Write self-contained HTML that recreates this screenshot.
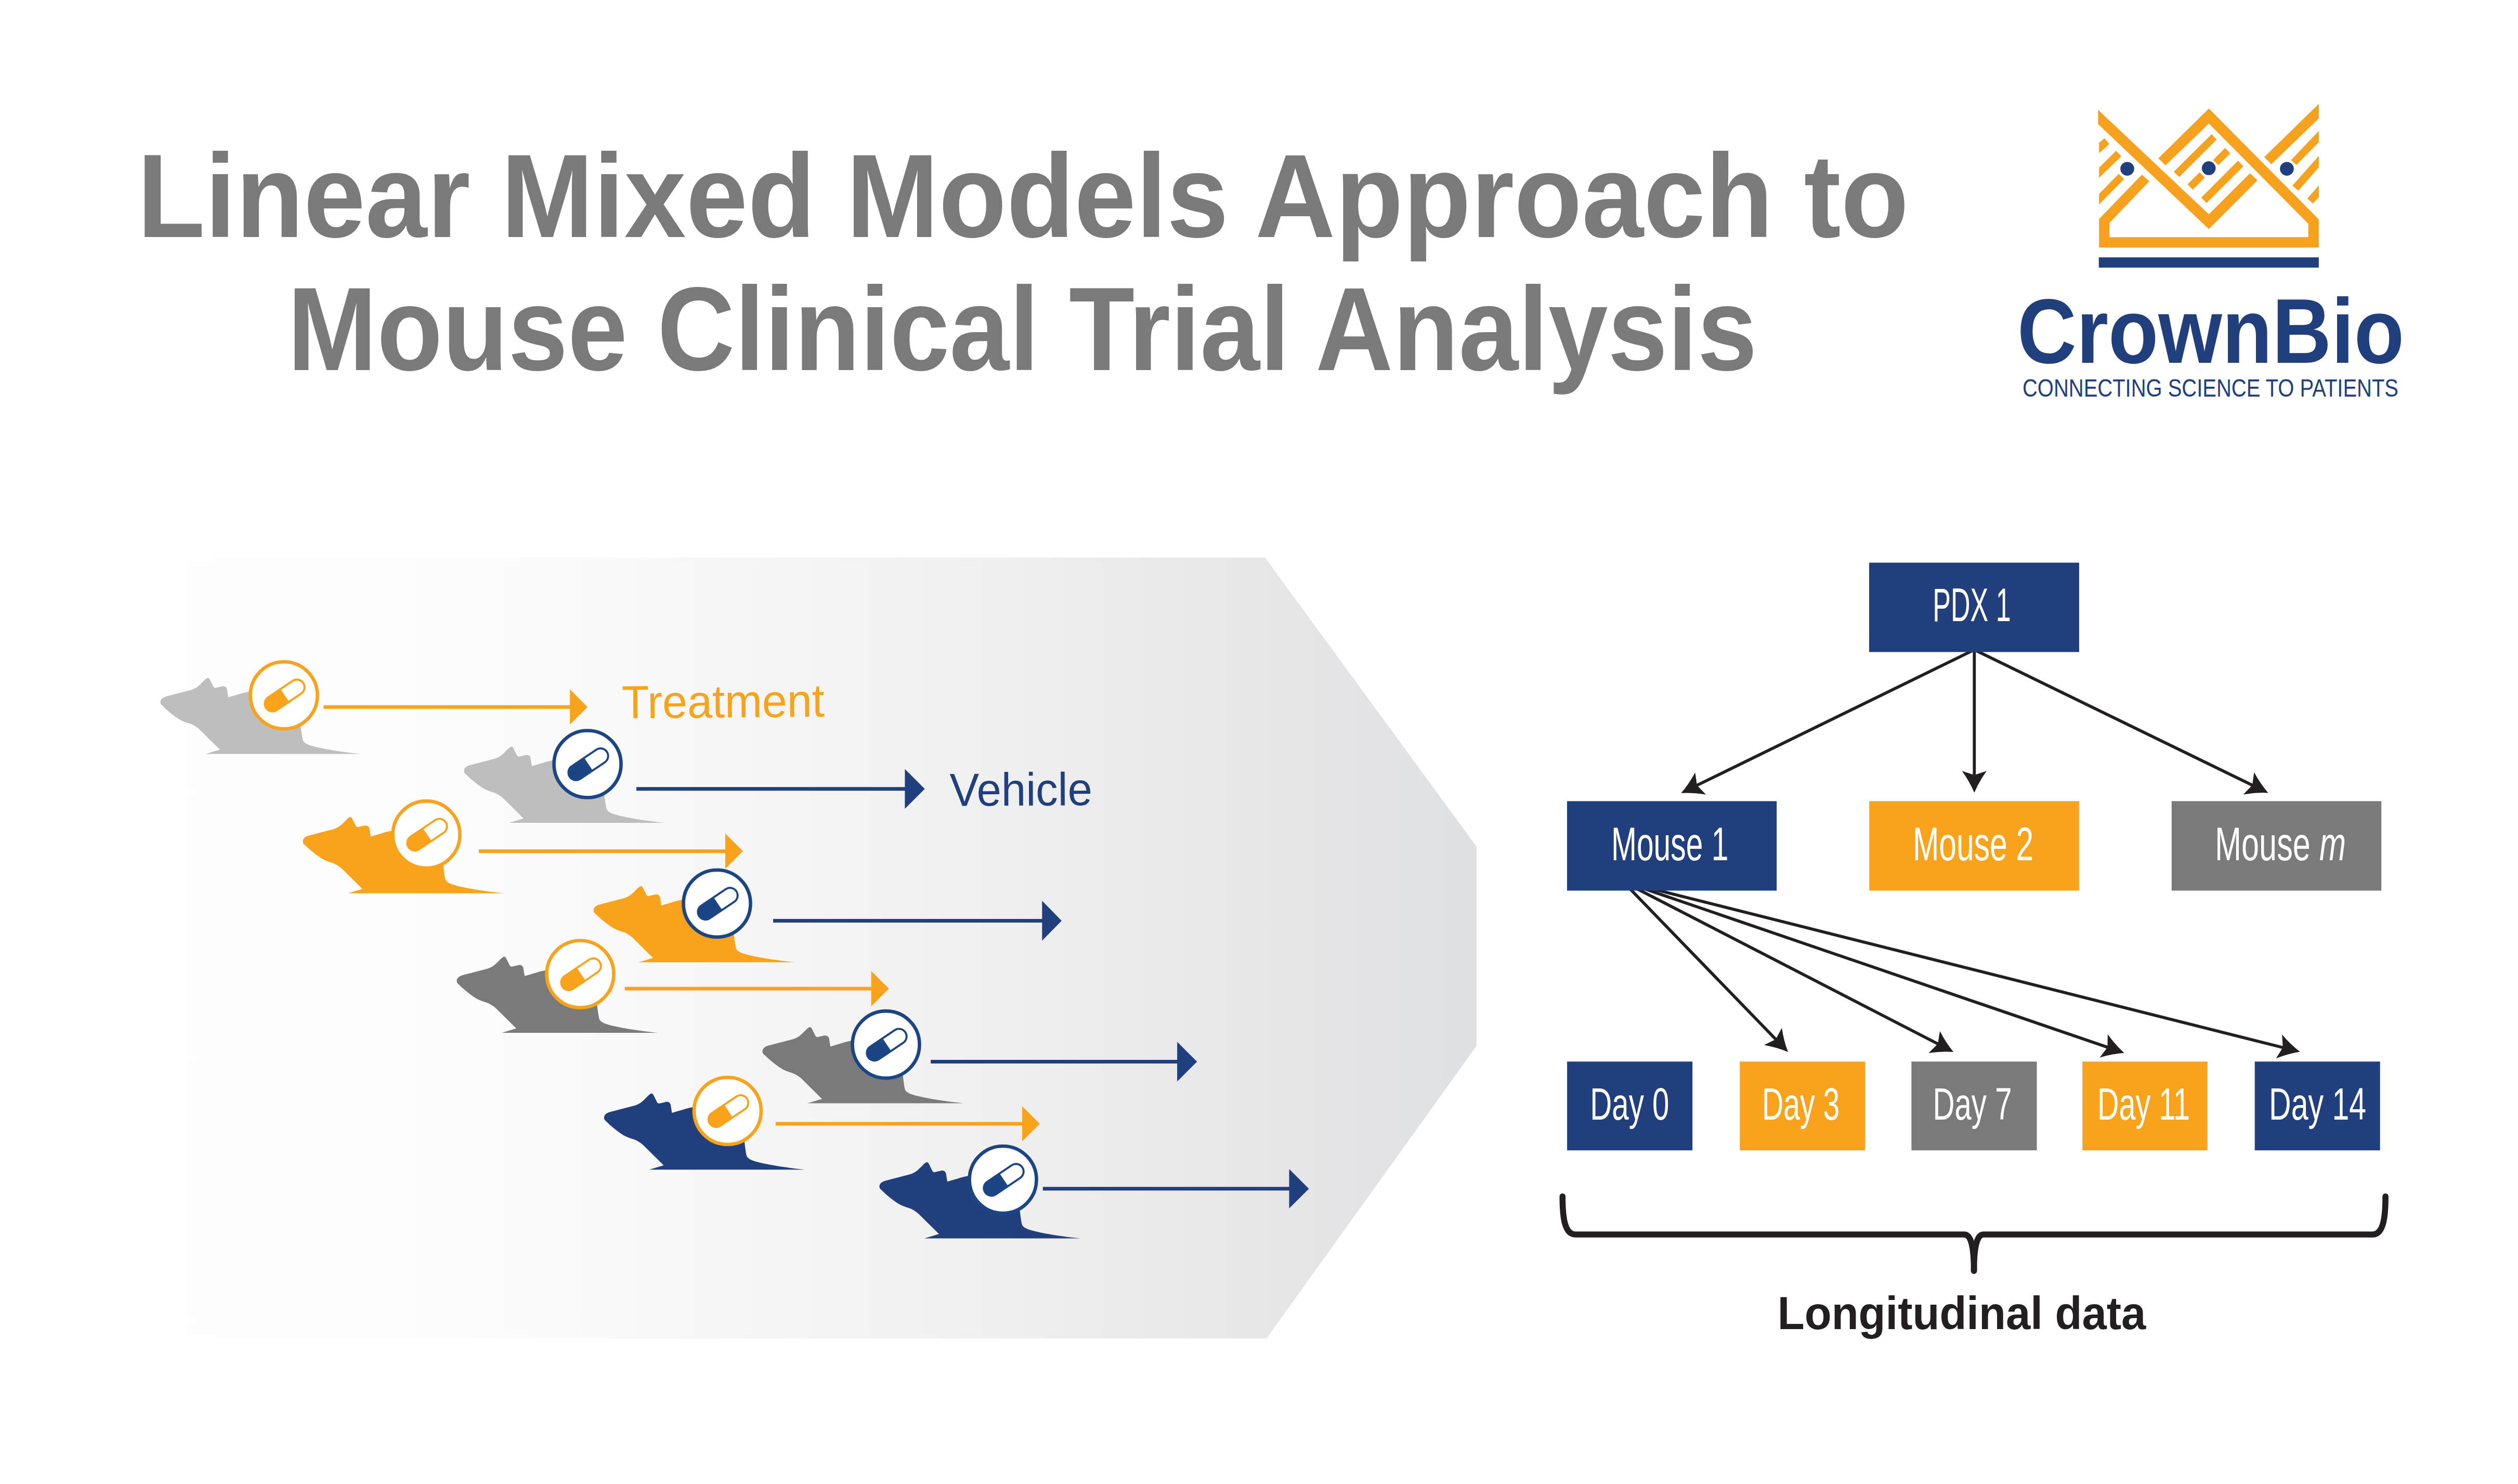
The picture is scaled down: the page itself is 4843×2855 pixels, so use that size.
<!DOCTYPE html><html><head><meta charset="utf-8"><title>Linear Mixed Models Approach to Mouse Clinical Trial Analysis</title>
<style>html,body{margin:0;padding:0;background:#fff;}body{width:4843px;height:2855px;overflow:hidden;}svg{display:block;}text{font-family:"Liberation Sans",Arial,sans-serif;}</style></head><body>
<svg width="4843" height="2855" viewBox="0 0 4843 2855">
<defs><linearGradient id="bg" gradientUnits="userSpaceOnUse" x1="327" y1="0" x2="2840" y2="0"><stop offset="0" stop-color="#fefefe"/><stop offset="0.168" stop-color="#fdfdfd"/><stop offset="0.308" stop-color="#fafafa"/><stop offset="0.467" stop-color="#f5f5f5"/><stop offset="0.626" stop-color="#f0f0f0"/><stop offset="0.736" stop-color="#ebebeb"/><stop offset="0.831" stop-color="#e7e7e8"/><stop offset="1" stop-color="#dfe0e2"/></linearGradient></defs>
<rect width="4843" height="2855" fill="#fff"/>
<text x="264" y="455.5" font-size="229" font-weight="bold" fill="#7a7a7a" textLength="3407" lengthAdjust="spacingAndGlyphs">Linear Mixed Models Approach to</text>
<text x="553" y="712" font-size="229" font-weight="bold" fill="#7a7a7a" textLength="2826.5" lengthAdjust="spacingAndGlyphs">Mouse Clinical Trial Analysis</text>
<g transform="translate(4020,190) scale(0.22909)"><polygon points="435,637 497,693 162,1043 162,1162 1832,1162 1832,1050 997,208 633,560 573,500 997,82 1920,1013 1920,1250 75,1250 75,1010" fill="#f7a21e"/><polygon points="67,93 997,970 1343,625 1405,685 997,1095 67,213" fill="#f7a21e"/><polygon points="1920,43 1920,165 1522,550 1462,490" fill="#f7a21e"/><polygon points="75,370 120,332 162,380 75,458" fill="#f7a21e"/><polygon points="75,580 218,437 262,483 75,665" fill="#f7a21e"/><polygon points="75,800 240,630 285,675 75,888" fill="#f7a21e"/><polygon points="703,612 1020,298 1063,343 748,657" fill="#f7a21e"/><polygon points="1033,515 1133,412 1177,458 1077,558" fill="#f7a21e"/><polygon points="818,718 920,617 963,662 862,764" fill="#f7a21e"/><polygon points="933,830 1242,520 1287,567 978,875" fill="#f7a21e"/><polygon points="1687,515 1920,270 1920,365 1732,557" fill="#f7a21e"/><polygon points="1698,730 1920,480 1920,577 1748,772" fill="#f7a21e"/><polygon points="1824,838 1920,728 1920,828 1870,880" fill="#f7a21e"/><circle cx="312" cy="588" r="58" fill="#223f7d"/><circle cx="996" cy="583" r="58" fill="#223f7d"/><circle cx="1652" cy="588" r="58" fill="#223f7d"/><rect x="73" y="1332" width="1847" height="86" fill="#223f7d"/></g>
<text x="3880" y="697.7" font-size="176" font-weight="bold" fill="#223f7d" textLength="744" lengthAdjust="spacingAndGlyphs">CrownBio</text>
<text x="3890" y="762.9" font-size="48.5" fill="#223f7d" textLength="723" lengthAdjust="spacingAndGlyphs">CONNECTING SCIENCE TO PATIENTS</text>
<polygon points="327,1072.5 2433,1072.5 2840,1629 2840,2012 2436,2575 327,2575" fill="url(#bg)"/>
<path transform="translate(546,1337.7)" d="M-237.3,14.5 C-238.5,8 -233,3.5 -224,1.5 L-178,-10.5 C-170,-13 -165,-17 -158,-24 C-153,-29 -149,-33.5 -146.5,-33.5 C-144,-33.5 -143,-31.5 -142,-29.5 L-135,-15.6 L-132,-14.3 L-119,-17.3 C-114,-18 -110.5,-16 -109.5,-12 L-107,3.8 L-85.6,-2.5 C-78,-5 -70,-7 -62,-8 L0,-40 L45,10 L32.6,60.2 C33.5,68 35,80 36.5,86 C38,90.5 42,93 50,96 C70,102.5 110,109 149,112.9 L-151,112.9 L-123,104.6 L-161.5,66.5 C-167,61 -175,56 -184.3,53.4 C-192,51 -199,48 -206,43 C-215,36.5 -225,28.5 -232,21.5 C-235,18.5 -237.5,17 -237.3,14.5 Z" fill="#bebebe"/><circle cx="546" cy="1337.7" r="64.5" fill="#fff" stroke="#f9a31c" stroke-width="6.6"/><g transform="translate(547.5,1338) rotate(-34)"><rect x="-45" y="-16.6" width="90" height="33.2" rx="16.6" fill="#f9a31c"/><path d="M0.3,-12.7 H28.4 A12.7,12.7 0 0 1 28.4,12.7 H0.3 Z" fill="#fff"/></g><rect x="622.2" y="1356.7" width="475" height="7" fill="#f9a31c"/><polygon points="1096.2,1326.3 1130,1360.2 1096.2,1394.1" fill="#f9a31c"/>
<path transform="translate(1130,1470)" d="M-237.3,14.5 C-238.5,8 -233,3.5 -224,1.5 L-178,-10.5 C-170,-13 -165,-17 -158,-24 C-153,-29 -149,-33.5 -146.5,-33.5 C-144,-33.5 -143,-31.5 -142,-29.5 L-135,-15.6 L-132,-14.3 L-119,-17.3 C-114,-18 -110.5,-16 -109.5,-12 L-107,3.8 L-85.6,-2.5 C-78,-5 -70,-7 -62,-8 L0,-40 L45,10 L32.6,60.2 C33.5,68 35,80 36.5,86 C38,90.5 42,93 50,96 C70,102.5 110,109 149,112.9 L-151,112.9 L-123,104.6 L-161.5,66.5 C-167,61 -175,56 -184.3,53.4 C-192,51 -199,48 -206,43 C-215,36.5 -225,28.5 -232,21.5 C-235,18.5 -237.5,17 -237.3,14.5 Z" fill="#bebebe"/><circle cx="1130" cy="1470" r="64.5" fill="#fff" stroke="#1c4585" stroke-width="6.6"/><g transform="translate(1131.5,1470.3) rotate(-34)"><rect x="-45" y="-16.6" width="90" height="33.2" rx="16.6" fill="#1c4585"/><path d="M0.3,-12.7 H28.4 A12.7,12.7 0 0 1 28.4,12.7 H0.3 Z" fill="#fff"/></g><rect x="1224" y="1514.2" width="517.4" height="7" fill="#223f7d"/><polygon points="1740.4,1479.5 1778.7,1517.7 1740.4,1555.9" fill="#223f7d"/>
<path transform="translate(820,1605.6)" d="M-237.3,14.5 C-238.5,8 -233,3.5 -224,1.5 L-178,-10.5 C-170,-13 -165,-17 -158,-24 C-153,-29 -149,-33.5 -146.5,-33.5 C-144,-33.5 -143,-31.5 -142,-29.5 L-135,-15.6 L-132,-14.3 L-119,-17.3 C-114,-18 -110.5,-16 -109.5,-12 L-107,3.8 L-85.6,-2.5 C-78,-5 -70,-7 -62,-8 L0,-40 L45,10 L32.6,60.2 C33.5,68 35,80 36.5,86 C38,90.5 42,93 50,96 C70,102.5 110,109 149,112.9 L-151,112.9 L-123,104.6 L-161.5,66.5 C-167,61 -175,56 -184.3,53.4 C-192,51 -199,48 -206,43 C-215,36.5 -225,28.5 -232,21.5 C-235,18.5 -237.5,17 -237.3,14.5 Z" fill="#f9a31c"/><circle cx="820" cy="1605.6" r="64.5" fill="#fff" stroke="#f9a31c" stroke-width="6.6"/><g transform="translate(821.5,1605.9) rotate(-34)"><rect x="-45" y="-16.6" width="90" height="33.2" rx="16.6" fill="#f9a31c"/><path d="M0.3,-12.7 H28.4 A12.7,12.7 0 0 1 28.4,12.7 H0.3 Z" fill="#fff"/></g><rect x="921" y="1634.1" width="474.9" height="7" fill="#f9a31c"/><polygon points="1394.9,1603.6 1428.9,1637.6 1394.9,1671.6" fill="#f9a31c"/>
<path transform="translate(1379,1738.3)" d="M-237.3,14.5 C-238.5,8 -233,3.5 -224,1.5 L-178,-10.5 C-170,-13 -165,-17 -158,-24 C-153,-29 -149,-33.5 -146.5,-33.5 C-144,-33.5 -143,-31.5 -142,-29.5 L-135,-15.6 L-132,-14.3 L-119,-17.3 C-114,-18 -110.5,-16 -109.5,-12 L-107,3.8 L-85.6,-2.5 C-78,-5 -70,-7 -62,-8 L0,-40 L45,10 L32.6,60.2 C33.5,68 35,80 36.5,86 C38,90.5 42,93 50,96 C70,102.5 110,109 149,112.9 L-151,112.9 L-123,104.6 L-161.5,66.5 C-167,61 -175,56 -184.3,53.4 C-192,51 -199,48 -206,43 C-215,36.5 -225,28.5 -232,21.5 C-235,18.5 -237.5,17 -237.3,14.5 Z" fill="#f9a31c"/><circle cx="1379" cy="1738.3" r="64.5" fill="#fff" stroke="#1c4585" stroke-width="6.6"/><g transform="translate(1380.5,1738.6) rotate(-34)"><rect x="-45" y="-16.6" width="90" height="33.2" rx="16.6" fill="#1c4585"/><path d="M0.3,-12.7 H28.4 A12.7,12.7 0 0 1 28.4,12.7 H0.3 Z" fill="#fff"/></g><rect x="1487" y="1767.9" width="518.3" height="7" fill="#223f7d"/><polygon points="2004.3,1733 2041.9,1771.4 2004.3,1809.8" fill="#223f7d"/>
<path transform="translate(1116,1874)" d="M-237.3,14.5 C-238.5,8 -233,3.5 -224,1.5 L-178,-10.5 C-170,-13 -165,-17 -158,-24 C-153,-29 -149,-33.5 -146.5,-33.5 C-144,-33.5 -143,-31.5 -142,-29.5 L-135,-15.6 L-132,-14.3 L-119,-17.3 C-114,-18 -110.5,-16 -109.5,-12 L-107,3.8 L-85.6,-2.5 C-78,-5 -70,-7 -62,-8 L0,-40 L45,10 L32.6,60.2 C33.5,68 35,80 36.5,86 C38,90.5 42,93 50,96 C70,102.5 110,109 149,112.9 L-151,112.9 L-123,104.6 L-161.5,66.5 C-167,61 -175,56 -184.3,53.4 C-192,51 -199,48 -206,43 C-215,36.5 -225,28.5 -232,21.5 C-235,18.5 -237.5,17 -237.3,14.5 Z" fill="#7a7a7a"/><circle cx="1116" cy="1874" r="64.5" fill="#fff" stroke="#f9a31c" stroke-width="6.6"/><g transform="translate(1117.5,1874.3) rotate(-34)"><rect x="-45" y="-16.6" width="90" height="33.2" rx="16.6" fill="#f9a31c"/><path d="M0.3,-12.7 H28.4 A12.7,12.7 0 0 1 28.4,12.7 H0.3 Z" fill="#fff"/></g><rect x="1201.8" y="1898.5" width="474.8" height="7" fill="#f9a31c"/><polygon points="1675.6,1868.1 1709.7,1902 1675.6,1935.9" fill="#f9a31c"/>
<path transform="translate(1704,2009.6)" d="M-237.3,14.5 C-238.5,8 -233,3.5 -224,1.5 L-178,-10.5 C-170,-13 -165,-17 -158,-24 C-153,-29 -149,-33.5 -146.5,-33.5 C-144,-33.5 -143,-31.5 -142,-29.5 L-135,-15.6 L-132,-14.3 L-119,-17.3 C-114,-18 -110.5,-16 -109.5,-12 L-107,3.8 L-85.6,-2.5 C-78,-5 -70,-7 -62,-8 L0,-40 L45,10 L32.6,60.2 C33.5,68 35,80 36.5,86 C38,90.5 42,93 50,96 C70,102.5 110,109 149,112.9 L-151,112.9 L-123,104.6 L-161.5,66.5 C-167,61 -175,56 -184.3,53.4 C-192,51 -199,48 -206,43 C-215,36.5 -225,28.5 -232,21.5 C-235,18.5 -237.5,17 -237.3,14.5 Z" fill="#7a7a7a"/><circle cx="1704" cy="2009.6" r="64.5" fill="#fff" stroke="#1c4585" stroke-width="6.6"/><g transform="translate(1705.5,2009.9) rotate(-34)"><rect x="-45" y="-16.6" width="90" height="33.2" rx="16.6" fill="#1c4585"/><path d="M0.3,-12.7 H28.4 A12.7,12.7 0 0 1 28.4,12.7 H0.3 Z" fill="#fff"/></g><rect x="1790.1" y="2039" width="475" height="7" fill="#223f7d"/><polygon points="2264.1,2004.3 2302.3,2042.5 2264.1,2080.7" fill="#223f7d"/>
<path transform="translate(1399.4,2137.3)" d="M-237.3,14.5 C-238.5,8 -233,3.5 -224,1.5 L-178,-10.5 C-170,-13 -165,-17 -158,-24 C-153,-29 -149,-33.5 -146.5,-33.5 C-144,-33.5 -143,-31.5 -142,-29.5 L-135,-15.6 L-132,-14.3 L-119,-17.3 C-114,-18 -110.5,-16 -109.5,-12 L-107,3.8 L-85.6,-2.5 C-78,-5 -70,-7 -62,-8 L0,-40 L45,10 L32.6,60.2 C33.5,68 35,80 36.5,86 C38,90.5 42,93 50,96 C70,102.5 110,109 149,112.9 L-151,112.9 L-123,104.6 L-161.5,66.5 C-167,61 -175,56 -184.3,53.4 C-192,51 -199,48 -206,43 C-215,36.5 -225,28.5 -232,21.5 C-235,18.5 -237.5,17 -237.3,14.5 Z" fill="#223f7d"/><circle cx="1399.4" cy="2137.3" r="64.5" fill="#fff" stroke="#f9a31c" stroke-width="6.6"/><g transform="translate(1400.9,2137.6) rotate(-34)"><rect x="-45" y="-16.6" width="90" height="33.2" rx="16.6" fill="#f9a31c"/><path d="M0.3,-12.7 H28.4 A12.7,12.7 0 0 1 28.4,12.7 H0.3 Z" fill="#fff"/></g><rect x="1491.9" y="2158.5" width="475.1" height="7" fill="#f9a31c"/><polygon points="1966,2128.3 1999.9,2162 1966,2195.7" fill="#f9a31c"/>
<path transform="translate(1929,2269.5)" d="M-237.3,14.5 C-238.5,8 -233,3.5 -224,1.5 L-178,-10.5 C-170,-13 -165,-17 -158,-24 C-153,-29 -149,-33.5 -146.5,-33.5 C-144,-33.5 -143,-31.5 -142,-29.5 L-135,-15.6 L-132,-14.3 L-119,-17.3 C-114,-18 -110.5,-16 -109.5,-12 L-107,3.8 L-85.6,-2.5 C-78,-5 -70,-7 -62,-8 L0,-40 L45,10 L32.6,60.2 C33.5,68 35,80 36.5,86 C38,90.5 42,93 50,96 C70,102.5 110,109 149,112.9 L-151,112.9 L-123,104.6 L-161.5,66.5 C-167,61 -175,56 -184.3,53.4 C-192,51 -199,48 -206,43 C-215,36.5 -225,28.5 -232,21.5 C-235,18.5 -237.5,17 -237.3,14.5 Z" fill="#223f7d"/><circle cx="1929" cy="2269.5" r="64.5" fill="#fff" stroke="#1c4585" stroke-width="6.6"/><g transform="translate(1930.5,2269.8) rotate(-34)"><rect x="-45" y="-16.6" width="90" height="33.2" rx="16.6" fill="#1c4585"/><path d="M0.3,-12.7 H28.4 A12.7,12.7 0 0 1 28.4,12.7 H0.3 Z" fill="#fff"/></g><rect x="2005.8" y="2283.4" width="474.7" height="7" fill="#223f7d"/><polygon points="2479.5,2249 2517.5,2286.9 2479.5,2324.8" fill="#223f7d"/>
<text x="1196" y="1382" font-size="89.5" fill="#f9a31c" textLength="390.1" lengthAdjust="spacingAndGlyphs" transform="rotate(-0.5 1196 1382)">Treatment</text>
<text x="1826.8" y="1550.5" font-size="89.5" fill="#223f7d" textLength="274.2" lengthAdjust="spacingAndGlyphs" transform="rotate(-0.3 1826.8 1550.5)">Vehicle</text>
<line x1="3797.3" y1="1250" x2="3260.4" y2="1512.5" stroke="#231f20" stroke-width="5.8"/><path transform="translate(3233.4,1525.7) rotate(153.95)" d="M0,0 Q-20.8,-8.75 -41.6,-23.7 L-34,0 L-41.6,23.7 Q-20.8,8.75 0,0 Z" fill="#231f20"/>
<line x1="3797.3" y1="1250" x2="3797.3" y2="1494.9" stroke="#231f20" stroke-width="5.8"/><path transform="translate(3797.3,1524.9) rotate(90.00)" d="M0,0 Q-20.8,-8.75 -41.6,-23.7 L-34,0 L-41.6,23.7 Q-20.8,8.75 0,0 Z" fill="#231f20"/>
<line x1="3797.3" y1="1250" x2="4335.5" y2="1512.3" stroke="#231f20" stroke-width="5.8"/><path transform="translate(4362.5,1525.4) rotate(25.98)" d="M0,0 Q-20.8,-8.75 -41.6,-23.7 L-34,0 L-41.6,23.7 Q-20.8,8.75 0,0 Z" fill="#231f20"/>
<line x1="3121.3" y1="1695.8" x2="3418.1" y2="2002.3" stroke="#231f20" stroke-width="5.8"/><path transform="translate(3439,2023.9) rotate(45.92)" d="M0,0 Q-20.8,-8.75 -41.6,-23.7 L-34,0 L-41.6,23.7 Q-20.8,8.75 0,0 Z" fill="#231f20"/>
<line x1="3121.3" y1="1695.8" x2="3730.6" y2="2010" stroke="#231f20" stroke-width="5.8"/><path transform="translate(3757.3,2023.8) rotate(27.28)" d="M0,0 Q-20.8,-8.75 -41.6,-23.7 L-34,0 L-41.6,23.7 Q-20.8,8.75 0,0 Z" fill="#231f20"/>
<line x1="3121.3" y1="1695.8" x2="4057.2" y2="2016" stroke="#231f20" stroke-width="5.8"/><path transform="translate(4085.6,2025.7) rotate(18.89)" d="M0,0 Q-20.8,-8.75 -41.6,-23.7 L-34,0 L-41.6,23.7 Q-20.8,8.75 0,0 Z" fill="#231f20"/>
<line x1="3121.3" y1="1695.8" x2="4394.6" y2="2016.2" stroke="#231f20" stroke-width="5.8"/><path transform="translate(4423.7,2023.5) rotate(14.12)" d="M0,0 Q-20.8,-8.75 -41.6,-23.7 L-34,0 L-41.6,23.7 Q-20.8,8.75 0,0 Z" fill="#231f20"/>
<rect x="3595" y="1082.5" width="403.9" height="171.9" fill="#223f7d"/>
<rect x="3014" y="1541.3" width="403.2" height="172.1" fill="#223f7d"/>
<rect x="3595.2" y="1541.3" width="403.6" height="172.1" fill="#f9a31c"/>
<rect x="4176.8" y="1541.3" width="403.4" height="172.1" fill="#7a7a7a"/>
<rect x="3014.1" y="2042.3" width="241.1" height="170.8" fill="#223f7d"/>
<rect x="3346.3" y="2042.3" width="241" height="170.8" fill="#f9a31c"/>
<rect x="3676.4" y="2042.3" width="241.1" height="170.8" fill="#7a7a7a"/>
<rect x="4005.2" y="2042.3" width="240.4" height="170.8" fill="#f9a31c"/>
<rect x="4336.7" y="2042.3" width="241" height="170.8" fill="#223f7d"/>
<text x="3717.3" y="1195.1" font-size="91" fill="#fff" textLength="150.4" lengthAdjust="spacingAndGlyphs">PDX 1</text>
<text x="3098.9" y="1655.1" font-size="90" fill="#fff" textLength="225.6" lengthAdjust="spacingAndGlyphs">Mouse 1</text>
<text x="3678.9" y="1655.1" font-size="90" fill="#fff" textLength="232.2" lengthAdjust="spacingAndGlyphs">Mouse 2</text>
<text x="4260" y="1655.1" font-size="90" fill="#fff" textLength="252" lengthAdjust="spacingAndGlyphs">Mouse <tspan font-style="italic">m</tspan></text>
<text x="3058.3" y="2153.7" font-size="88" fill="#fff" textLength="152.2" lengthAdjust="spacingAndGlyphs">Day 0</text>
<text x="3389" y="2153.7" font-size="88" fill="#fff" textLength="149.4" lengthAdjust="spacingAndGlyphs">Day 3</text>
<text x="3717.4" y="2153.7" font-size="88" fill="#fff" textLength="152.2" lengthAdjust="spacingAndGlyphs">Day 7</text>
<text x="4033.9" y="2153.7" font-size="88" fill="#fff" textLength="178.2" lengthAdjust="spacingAndGlyphs">Day 11</text>
<text x="4364.1" y="2153.7" font-size="88" fill="#fff" textLength="187.1" lengthAdjust="spacingAndGlyphs">Day 14</text>
<path d="M3005.3,2301.7 C3005.3,2343 3009.5,2375 3030,2375 H3778 C3790,2375 3796.6,2395 3796.6,2445" fill="none" stroke="#231f20" stroke-width="11.6" stroke-linecap="round" stroke-linejoin="round"/>
<path d="M4588.1,2301.7 C4588.1,2343 4583.9,2375 4563.4,2375 H3815.2 C3803.2,2375 3796.6,2395 3796.6,2445" fill="none" stroke="#231f20" stroke-width="11.6" stroke-linecap="round" stroke-linejoin="round"/>
<text x="3418.8" y="2557.3" font-size="89.5" font-weight="bold" fill="#231f20" textLength="708.5" lengthAdjust="spacingAndGlyphs">Longitudinal data</text>
</svg></body></html>
